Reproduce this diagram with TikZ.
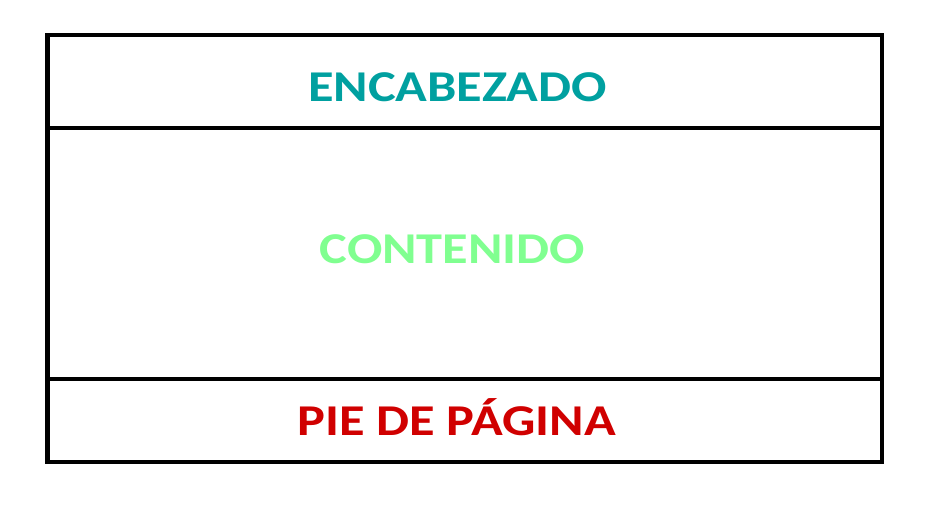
\documentclass[tikz,border=0pt]{standalone}
\usepackage{fontspec}
\setmainfont{Carlito}[FakeStretch=1.19]
\usepackage{tikz}
\usetikzlibrary{positioning}
\definecolor{headcol}{HTML}{00A0A0}
\definecolor{bodycol}{HTML}{80FF90}
\definecolor{footcol}{HTML}{D00000}
\tikzset{
  section/.style={draw=black,line width=4.5pt,outer sep=0pt,inner sep=0pt,
                  minimum width=834.5pt},
  title/.style  ={font=\fontsize{44}{50}\selectfont\bfseries,anchor=base,
                  inner sep=0pt}
}
\begin{document}
\begin{tikzpicture}[x=1pt,y=1pt]
  \useasboundingbox (0,0) rectangle (928,507);
  \node[section,minimum height=93pt,anchor=north west] (header) at (47.5,472) {};
  \node[section,minimum height=251pt,below=0pt of header] (body) {};
  \node[section,minimum height=83pt,below=0pt of body] (footer) {};
  \node[title,text=headcol] (htext) at (457.5,405) {ENCABEZADO};
  \node[title,text=bodycol] (btext) at (452.5,244) {CONTENIDO};
  \node[title,text=footcol] (ftext) at (456.5,72) {PIE DE PÁGINA};
\end{tikzpicture}
\end{document}
